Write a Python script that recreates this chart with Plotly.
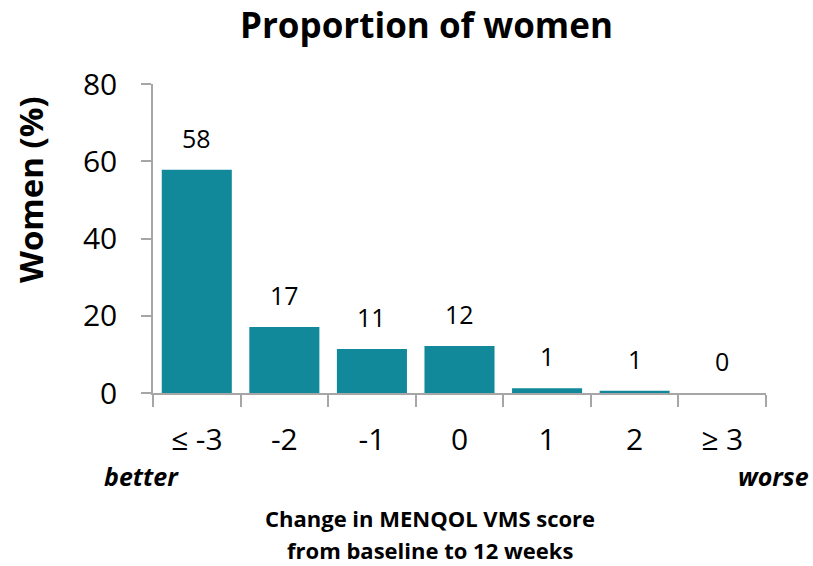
import plotly.graph_objects as go

categories = ["≤ -3", "-2", "-1", "0", "1", "2", "≥ 3"]
women_pct = [57.8, 17.1, 11.4, 12.2, 1.2, 0.6, 0.0]
bar_labels = ["58", "17", "11", "12", "1", "1", "0"]
y_ticks = [0, 20, 40, 60, 80]

BAR_COLOR = "#12899A"
AXIS_COLOR = "#A6A6A6"
FONT = "Open Sans"

fig = go.Figure()
fig.add_trace(
    go.Bar(
        x=categories,
        y=women_pct,
        marker=dict(color=BAR_COLOR, line=dict(width=0)),
        width=0.8,
        hoverinfo="x+y",
    )
)

# value labels sit well above each bar (x by category index)
for i, (val, lab) in enumerate(zip(women_pct, bar_labels)):
    fig.add_annotation(
        x=i, y=val, text=lab, showarrow=False, yshift=32,
        font=dict(family=FONT, size=25, color="black"),
    )

plot_left, plot_right, plot_top, plot_bottom = 153, 766, 84, 393
W, H = 813, 566
pw = plot_right - plot_left
ph = plot_bottom - plot_top


def px_x(px):
    return (px - plot_left) / pw


def px_y(py):
    return (plot_bottom - py) / ph


def label(x_px, y_px, text, size, angle=0):
    fig.add_annotation(
        x=px_x(x_px), y=px_y(y_px), xref="paper", yref="paper", text=text,
        xanchor="center", yanchor="middle", textangle=angle, showarrow=False,
        font=dict(family=FONT, size=size, color="black"),
    )


label(426, 25, "<b>Proportion of women</b>", 35)
label(30, 190, "<b>Women (%)</b>", 33, angle=-90)
label(141, 476, "<b><i>better</i></b>", 25)
label(773, 476, "<b><i>worse</i></b>", 25)
label(430, 518, "<b>Change in MENQOL VMS score</b>", 22)
label(430, 550, "<b>from baseline to 12 weeks</b>", 22)

fig.update_xaxes(
    type="category",
    showline=True, linecolor=AXIS_COLOR, linewidth=1.5,
    ticks="outside", tickson="boundaries", ticklen=12, tickcolor=AXIS_COLOR, tickwidth=1.5,
    tickfont=dict(family=FONT, size=30, color="black"), ticklabelstandoff=19,
    showgrid=False, zeroline=False,
)
fig.update_yaxes(
    range=[0, 80], tickvals=y_ticks,
    showline=True, linecolor=AXIS_COLOR, linewidth=1.5,
    ticks="outside", ticklen=10, tickcolor=AXIS_COLOR, tickwidth=1.5,
    tickfont=dict(family=FONT, size=30, color="black"), ticklabelstandoff=18,
    showgrid=False, zeroline=False,
)

fig.update_layout(
    width=W, height=H,
    margin=dict(l=plot_left, r=W - plot_right, t=plot_top, b=H - plot_bottom),
    plot_bgcolor="white", paper_bgcolor="white",
    showlegend=False, bargap=0.2,
)

fig.write_html(
    "out.html",
    config={"displayModeBar": False},
    post_script="document.body.style.margin='0';",
)
